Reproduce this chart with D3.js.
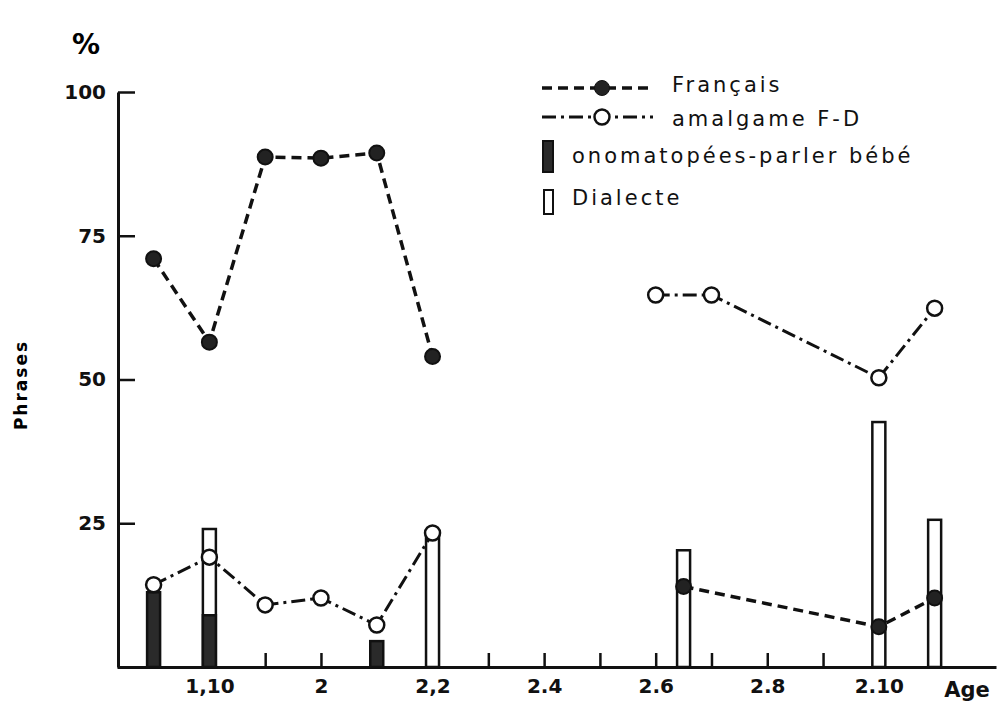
<!DOCTYPE html>
<html>
<head>
<meta charset="utf-8">
<script src="https://cdn.jsdelivr.net/npm/d3@7"></script>
<style>
  body { margin: 0; background: #fff; }
  svg { display: block; font-family: "DejaVu Sans", sans-serif; }
  .tick-label { font-family: "DejaVu Sans", sans-serif; font-size: 20px; font-weight: bold; fill: #111; }
  .legend text { font-size: 21px; letter-spacing: 3px; fill: #111; }
</style>
</head>
<body>
<svg id="chart" width="1000" height="703"></svg>
<script>
// Age in months (2.0 = 24 months); values in % of phrases
const francaisA = { ages: [21, 22, 23, 24, 25, 26], values: [71, 56.5, 88.7, 88.5, 89.4, 54] };
const francaisB = { ages: [30.5, 34, 35], values: [14, 7, 12] };
const amalgameA = { ages: [21, 22, 23, 24, 25, 26], values: [14.3, 19.1, 10.8, 12, 7.3, 23.3] };
const amalgameB = { ages: [30, 31, 34, 35], values: [64.7, 64.7, 50.3, 62.4] };
const onomatoAges = [21, 22, 25];
const onomatoValues = [13, 9, 4.5];
const dialecteAges = [22, 26, 30.5, 34, 35];
const dialecteValues = [24, 23, 20.3, 42.6, 25.6];

const tickMonths = [21, 22, 23, 24, 25, 26, 27, 28, 29, 30, 31, 32, 33, 34, 35];
const tickLabels = { 22: '1,10', 24: '2', 26: '2,2', 28: '2.4', 30: '2.6', 32: '2.8', 34: '2.10' };
const yTicks = [25, 50, 75, 100];

const svg = d3.select('#chart');

const x = d3.scaleLinear().domain([20.344, 36.1]).range([117, 996]);
const y = d3.scaleLinear().domain([0, 100]).range([667, 92]);

const toPts = s => s.ages.map((a, i) => ({ a, v: s.values[i] }));
const line = d3.line().x(d => x(d.a)).y(d => y(d.v));

// axes
const xAxis = svg.append('g')
  .attr('transform', `translate(0, ${y(0)})`)
  .call(d3.axisBottom(x).tickValues(tickMonths).tickSize(-14).tickSizeOuter(0).tickPadding(12)
    .tickFormat(d => tickLabels[d] || ''));
xAxis.attr('font-family', null).attr('font-size', null);
xAxis.select('.domain').attr('stroke', '#111').attr('stroke-width', 3);
xAxis.selectAll('.tick line').attr('stroke', '#111').attr('stroke-width', 2.5);
xAxis.selectAll('.tick text').attr('class', 'tick-label');

const yAxis = svg.append('g')
  .attr('transform', `translate(${x.range()[0] + 1}, 0)`)
  .call(d3.axisLeft(y).tickValues(yTicks).tickSize(-17).tickSizeOuter(0).tickPadding(12));
yAxis.attr('font-family', null).attr('font-size', null);
yAxis.select('.domain').attr('stroke', '#111').attr('stroke-width', 3);
yAxis.selectAll('.tick line').attr('stroke', '#111').attr('stroke-width', 2.5);
yAxis.selectAll('.tick text').attr('class', 'tick-label');

svg.append('text').attr('x', 967).attr('y', 690).attr('text-anchor', 'middle')
  .attr('dy', '0.35em').attr('class', 'tick-label').style('font-size', '21px').text('Age');

svg.append('text').attr('x', 86).attr('y', 44).attr('text-anchor', 'middle')
  .attr('dy', '0.35em').style('font-size', '28px').style('font-weight', 'bold').text('%');

svg.append('text')
  .attr('transform', 'translate(21, 385) rotate(-90)')
  .attr('text-anchor', 'middle').attr('dy', '0.35em')
  .style('font-size', '17px').style('font-weight', 'bold').style('letter-spacing', '2px')
  .text('Phrases');

// bars
const barW = 13;
svg.append('g').selectAll('rect')
  .data(dialecteAges.map((a, i) => ({ a, v: dialecteValues[i] })))
  .join('rect')
  .attr('x', d => x(d.a) - barW / 2)
  .attr('y', d => y(d.v))
  .attr('width', barW)
  .attr('height', d => y(0) - y(d.v))
  .attr('fill', '#fff').attr('stroke', '#111').attr('stroke-width', 2.5);

svg.append('g').selectAll('rect')
  .data(onomatoAges.map((a, i) => ({ a, v: onomatoValues[i] })))
  .join('rect')
  .attr('x', d => x(d.a) - barW / 2)
  .attr('y', d => y(d.v))
  .attr('width', barW)
  .attr('height', d => y(0) - y(d.v))
  .attr('fill', '#2a2a2a').attr('stroke', '#111').attr('stroke-width', 2.5);

// lines
const frDash = '10,6';
const amDash = '14,5,3,5';
[francaisA, francaisB].forEach(s => {
  svg.append('path').datum(toPts(s)).attr('d', line)
    .attr('fill', 'none').attr('stroke', '#111').attr('stroke-width', 3.5)
    .attr('stroke-dasharray', frDash);
});
[amalgameA, amalgameB].forEach(s => {
  svg.append('path').datum(toPts(s)).attr('d', line)
    .attr('fill', 'none').attr('stroke', '#111').attr('stroke-width', 3)
    .attr('stroke-dasharray', amDash);
});

// points
[francaisA, francaisB].forEach(s => {
  svg.append('g').selectAll('circle').data(toPts(s)).join('circle')
    .attr('cx', d => x(d.a)).attr('cy', d => y(d.v)).attr('r', 7.5)
    .attr('fill', '#222').attr('stroke', '#111').attr('stroke-width', 2);
});
[amalgameA, amalgameB].forEach(s => {
  svg.append('g').selectAll('circle').data(toPts(s)).join('circle')
    .attr('cx', d => x(d.a)).attr('cy', d => y(d.v)).attr('r', 7.5)
    .attr('fill', '#fff').attr('stroke', '#111').attr('stroke-width', 2.5);
});

// legend
const lg = svg.append('g').attr('class', 'legend');
lg.append('line').attr('x1', 542).attr('x2', 653).attr('y1', 88).attr('y2', 88)
  .attr('stroke', '#111').attr('stroke-width', 3.5).attr('stroke-dasharray', frDash);
lg.append('circle').attr('cx', 602).attr('cy', 88).attr('r', 7.5).attr('fill', '#222').attr('stroke', '#111');
lg.append('text').attr('x', 672).attr('y', 85).attr('dy', '0.35em').text('Français');

lg.append('line').attr('x1', 542).attr('x2', 653).attr('y1', 117).attr('y2', 117)
  .attr('stroke', '#111').attr('stroke-width', 3).attr('stroke-dasharray', amDash);
lg.append('circle').attr('cx', 602).attr('cy', 117).attr('r', 7.5).attr('fill', '#fff')
  .attr('stroke', '#111').attr('stroke-width', 2.5);
lg.append('text').attr('x', 672).attr('y', 119).attr('dy', '0.35em').text('amalgame F-D');

lg.append('rect').attr('x', 543).attr('y', 141).attr('width', 10).attr('height', 31)
  .attr('fill', '#2a2a2a').attr('stroke', '#111').attr('stroke-width', 2);
lg.append('text').attr('x', 572).attr('y', 156).attr('dy', '0.35em').text('onomatopées-parler bébé');

lg.append('rect').attr('x', 544).attr('y', 190).attr('width', 9).attr('height', 24)
  .attr('fill', '#fff').attr('stroke', '#111').attr('stroke-width', 2);
lg.append('text').attr('x', 572).attr('y', 198).attr('dy', '0.35em').text('Dialecte');
</script>
</body>
</html>
